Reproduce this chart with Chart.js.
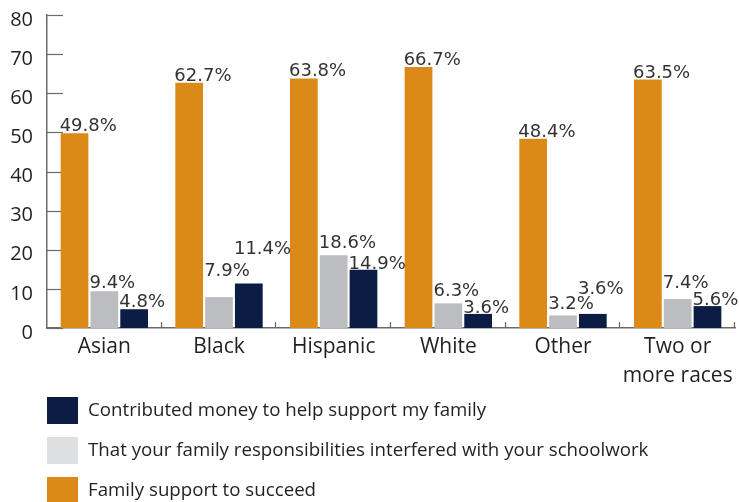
<!DOCTYPE html>
<html>
<head>
<meta charset="utf-8">
<script src="https://cdn.jsdelivr.net/npm/chart.js@4/dist/chart.umd.min.js"></script>
<style>
  html, body { margin: 0; padding: 0; background: #ffffff; }
  #wrap { width: 739px; height: 502px; position: relative; }
</style>
</head>
<body>
<div id="wrap"><canvas id="c"></canvas></div>
<script>
// ---- data ----
const categories = ['Asian', 'Black', 'Hispanic', 'White', 'Other', ['Two or', 'more races']];
const familySupport = [49.8, 62.7, 63.8, 66.7, 48.4, 63.5];
const interfered = [9.4, 7.9, 18.6, 6.3, 3.2, 7.4];
const contributedMoney = [4.8, 11.4, 14.9, 3.6, 3.6, 5.6];
const seriesNames = [
  'Family support to succeed',
  'That your family responsibilities interfered with your schoolwork',
  'Contributed money to help support my family'
];
const yTicks = [0, 10, 20, 30, 40, 50, 60, 70, 80];

// ---- styles ----
const barColors = ['#DB8A18', '#BCBDC0', '#0B1C45'];
const legendColors = ['#DB8A18', '#DEDFE1', '#0B1C45'];
const axisColor = '#6b6b6b';
const textColor = '#231f20';

// extra vertical lift (px) for value labels that would collide
const labelLift = [
  [0, 0, 0, 0, 0, 0],
  [1, 19, 5, 5, 4, 9],
  [0, 27, -1, -1, 18, -1]
];

const axisTicksPlugin = {
  id: 'axisTicks',
  beforeDatasetsDraw(chart) {
    const ctx = chart.ctx;
    const ys = chart.scales.y;
    const area = chart.chartArea;
    ctx.save();
    ctx.strokeStyle = axisColor;
    ctx.lineWidth = 1.2;
    yTicks.forEach(v => {
      const y = Math.round(ys.getPixelForValue(v)) + 0.5;
      ctx.beginPath();
      ctx.moveTo(area.left, y);
      ctx.lineTo(area.left + 16, y);
      ctx.stroke();
    });
    const n = categories.length;
    const w = (area.right - area.left) / n;
    for (let i = 1; i <= n; i++) {
      const x = Math.round(area.left + i * w) - 0.5;
      ctx.beginPath();
      ctx.moveTo(x, area.bottom);
      ctx.lineTo(x, area.bottom - 6);
      ctx.stroke();
    }
    ctx.restore();
  }
};

const valueLabelsPlugin = {
  id: 'valueLabels',
  afterDatasetsDraw(chart) {
    const ctx = chart.ctx;
    ctx.save();
    ctx.font = '18px "DejaVu Sans"';
    ctx.fillStyle = '#333333';
    ctx.textAlign = 'left';
    ctx.textBaseline = 'alphabetic';
    chart.data.datasets.forEach((ds, di) => {
      const meta = chart.getDatasetMeta(di);
      meta.data.forEach((bar, j) => {
        const left = bar.x - bar.width / 2;
        const y = bar.y - 2 - labelLift[di][j];
        ctx.fillText(ds.data[j].toFixed(1) + '%', left - 1, y);
      });
    });
    ctx.restore();
  }
};

const customLegendPlugin = {
  id: 'customLegend',
  afterDraw(chart) {
    const ctx = chart.ctx;
    const order = [2, 1, 0];
    ctx.save();
    ctx.font = '18.7px "Open Sans"';
    ctx.textAlign = 'left';
    ctx.textBaseline = 'middle';
    order.forEach((di, k) => {
      const top = 397 + k * 40;
      ctx.fillStyle = legendColors[di];
      ctx.fillRect(47, top, 31, 27);
      ctx.fillStyle = textColor;
      ctx.fillText(seriesNames[di], 88, top + 14);
    });
    ctx.restore();
  }
};

new Chart(document.getElementById('c'), {
  type: 'bar',
  data: {
    labels: categories,
    datasets: [
      { label: seriesNames[0], data: familySupport, backgroundColor: barColors[0] },
      { label: seriesNames[1], data: interfered, backgroundColor: barColors[1] },
      { label: seriesNames[2], data: contributedMoney, backgroundColor: barColors[2] }
    ]
  },
  options: {
    responsive: true,
    maintainAspectRatio: false,
    animation: false,
    layout: { padding: { top: 15, right: 4, bottom: 112, left: 0 } },
    datasets: { bar: { categoryPercentage: 0.78, barPercentage: 0.93 } },
    plugins: {
      legend: { display: false },
      tooltip: { enabled: false }
    },
    scales: {
      x: {
        grid: { display: false, drawTicks: false },
        border: { display: true, color: axisColor, width: 1.5 },
        ticks: {
          color: textColor,
          font: { family: 'Open Sans', size: 21, lineHeight: 1.4 },
          padding: 4,
          maxRotation: 0,
          autoSkip: false
        },
        afterFit(scale) {
          scale.height = 62;
          scale.paddingLeft = 0; scale.paddingRight = 0;
          scale.paddingTop = 0; scale.paddingBottom = 0;
        }
      },
      y: {
        min: 0, max: 80,
        afterBuildTicks(scale) { scale.ticks = yTicks.map(v => ({ value: v })); },
        grid: { display: false, drawTicks: false },
        border: { display: true, color: axisColor, width: 1.5 },
        ticks: {
          color: textColor,
          font: { family: 'Open Sans', size: 20 },
          padding: 14,
          labelOffset: 5
        },
        afterFit(scale) {
          scale.width = 47;
          scale.paddingTop = 0; scale.paddingBottom = 0;
          scale.paddingLeft = 0; scale.paddingRight = 0;
        }
      }
    }
  },
  plugins: [axisTicksPlugin, valueLabelsPlugin, customLegendPlugin]
});
</script>
</body>
</html>
